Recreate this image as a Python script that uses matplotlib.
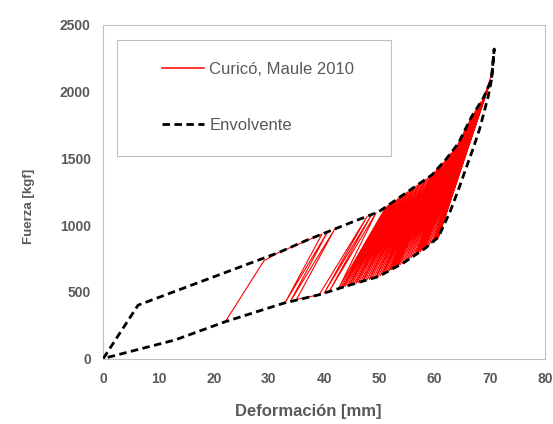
#!/usr/bin/env python3
"""
Force-deformation hysteresis (Curicó, Maule 2010) with its envelope.

Usage:
    python plot.py
"""

import matplotlib
matplotlib.use('Agg')
import matplotlib.pyplot as plt
from matplotlib.lines import Line2D
from matplotlib.patches import Rectangle

# Envelope as a closed loop: upper branch to the peak, lower branch back to 0
envelope_def = [0, 6.3, 31.8, 37.2, 44.3, 49.9, 54.7, 59.5, 62.0, 64.3, 66.7, 68.8, 70.3, 70.8,
                70.3, 69.7, 68.2, 67.0, 65.8, 64.3, 62.8, 60.7, 58.3, 54.5, 49.9, 44.6, 39.1,
                32.7, 22.1, 13.0, 0]
envelope_force = [0, 400, 795, 893, 1010, 1100, 1238, 1376, 1490, 1613, 1813, 1951, 2088, 2320,
                  2088, 1963, 1726, 1576, 1438, 1263, 1100, 910, 826, 720, 615, 550, 478,
                  415, 276, 139, 0]

# Recorded cycles: first loops (turning points, alternating lower / upper branch)
first_def = [22.1, 29.1, 31.8, 39.6, 32.9, 40.6, 33.9, 41.9, 35.0, 39.1,
             47.8, 40.0, 48.6, 40.9, 49.4]
first_force = [276, 733, 795, 932, 416, 948, 429, 969, 443, 478,
               1066, 490, 1079, 502, 1092]

# Dense cycles: turning points on the lower branch ...
lower_def = [42.6, 43.0, 43.4, 43.8, 44.2, 44.6, 45.0, 45.4, 45.8, 46.2,
             46.6, 47.0, 47.4, 47.8, 48.2, 48.6, 49.0, 49.4, 49.8, 50.2,
             50.6, 51.0, 51.4, 51.8, 52.2, 52.6, 53.0, 53.4, 53.8, 54.2,
             54.6, 55.0, 55.4, 55.8, 56.2, 56.6, 57.0, 57.4, 57.8, 58.2,
             58.6, 59.0, 59.4, 59.8, 60.2, 60.5, 60.7]
lower_force = [524, 529, 534, 539, 545, 550, 555, 560, 565, 570,
               575, 580, 585, 590, 594, 599, 604, 609, 614, 622,
               631, 640, 649, 658, 667, 676, 686, 695, 704, 713,
               723, 734, 745, 756, 767, 778, 790, 801, 812, 823,
               836, 850, 864, 878, 892, 903, 910]
# ... and the matching turning points on the upper branch
upper_def = [51.2, 51.6, 51.9, 52.3, 52.7, 53.0, 53.4, 53.8, 54.1, 54.5,
             54.9, 55.2, 55.6, 56.0, 56.3, 56.7, 57.1, 57.4, 57.8, 58.2,
             58.5, 58.9, 59.3, 59.6, 60.0, 60.4, 60.7, 61.1, 61.5, 61.9,
             62.4, 62.9, 63.4, 63.9, 64.4, 64.9, 65.4, 65.9, 66.4, 66.9,
             67.4, 67.9, 68.4, 68.9, 69.4, 69.9, 70.4]
upper_force = [1137, 1149, 1158, 1169, 1181, 1189, 1201, 1212, 1221, 1232,
               1244, 1252, 1264, 1275, 1284, 1296, 1307, 1316, 1327, 1339,
               1347, 1359, 1370, 1381, 1399, 1417, 1431, 1449, 1467, 1485,
               1511, 1538, 1565, 1592, 1621, 1663, 1705, 1746, 1788, 1826,
               1859, 1892, 1925, 1960, 2006, 2051, 2140]

x_ticks = [0, 10, 20, 30, 40, 50, 60, 70, 80]
y_ticks = [0, 500, 1000, 1500, 2000, 2500]

TEXT_GRAY = '#595959'
FRAME_GRAY = '#BFBFBF'
RED = '#FF0000'
DASH = (0, (2.7, 1.6))

W, H = 553, 424


def build_record():
    """Chain the turning points into one continuous path."""
    xs, ys = list(first_def), list(first_force)
    for xl, yl, xu, yu in zip(lower_def, lower_force, upper_def, upper_force):
        xs += [xl, xu]
        ys += [yl, yu]
    return xs, ys


def make_plot():
    plt.rcParams['font.family'] = ['Liberation Sans', 'DejaVu Sans']

    fig = plt.figure(figsize=(W / 100, H / 100), dpi=100)
    fig.patch.set_facecolor('white')
    # plot area in pixels: left 103.3, right 545, top 25, bottom 358.5
    ax = fig.add_axes([103.3 / W, (H - 358.5) / H, 441.7 / W, 333.5 / H])

    rec_x, rec_y = build_record()
    ax.plot(rec_x, rec_y, color=RED, lw=0.8, zorder=2)
    ax.plot(envelope_def, envelope_force, color='black', lw=2.0,
            linestyle=DASH, zorder=3)

    ax.set_xlim(0, 80)
    ax.set_ylim(0, 2500)
    ax.set_xticks(x_ticks)
    ax.set_yticks(y_ticks)
    ax.tick_params(length=0, labelsize=10, labelcolor=TEXT_GRAY)
    ax.tick_params(axis='x', pad=10)
    ax.tick_params(axis='y', pad=9)
    for lbl in ax.get_xticklabels() + ax.get_yticklabels():
        lbl.set_fontweight('bold')

    for side in ['left', 'right', 'top', 'bottom']:
        ax.spines[side].set_color(FRAME_GRAY)
        ax.spines[side].set_linewidth(0.8)

    ax.set_xlabel('Deformación [mm]', fontsize=12, fontweight='bold', color=TEXT_GRAY)
    ax.set_ylabel('Fuerza [kgf]', fontsize=9.5, fontweight='bold', color=TEXT_GRAY)
    ax.xaxis.set_label_coords(0.464, -0.136)
    ax.yaxis.set_label_coords(-0.155, 0.457)

    # Legend box
    fig.add_artist(Rectangle((117 / W, (H - 156) / H), 274 / W, 116 / H,
                             transform=fig.transFigure, facecolor='white',
                             edgecolor=FRAME_GRAY, lw=0.8, zorder=4))
    handles = [Line2D([], [], color=RED, lw=1.1),
               Line2D([], [], color='black', lw=2.0, linestyle=DASH)]
    leg = fig.legend(handles, ['Curicó, Maule 2010', 'Envolvente'],
                     loc='center left', bbox_to_anchor=(154 / W, (H - 97.5) / H),
                     frameon=False, fontsize=12, borderpad=0,
                     handlelength=2.52, handletextpad=0.3, labelspacing=2.5)
    leg.set_zorder(5)
    for txt in leg.get_texts():
        txt.set_color(TEXT_GRAY)

    fig.savefig('out.png', dpi=100, facecolor='white')
    plt.close(fig)


if __name__ == '__main__':
    make_plot()
